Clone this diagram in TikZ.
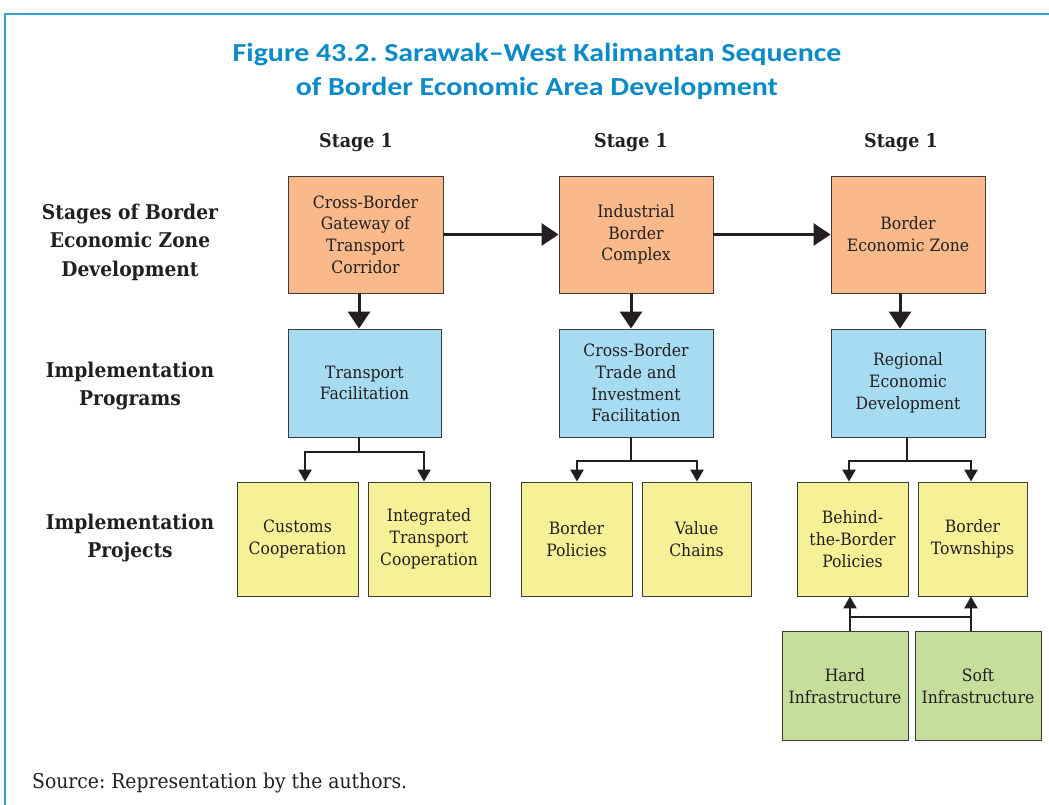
\documentclass[tikz,border=0pt]{standalone}
\usepackage{fontspec}
\setmainfont[FakeStretch=0.92]{DejaVu Serif}
\newfontfamily\titlefont[FakeStretch=1.15]{Carlito}
\usetikzlibrary{arrows.meta}
\definecolor{frameblue}{HTML}{3A9BD2}
\definecolor{titleblue}{HTML}{0A8AC9}
\definecolor{orangefill}{HTML}{F9B98A}
\definecolor{bluefill}{HTML}{A6DBF2}
\definecolor{yellowfill}{HTML}{F6F096}
\definecolor{greenfill}{HTML}{C5DE9C}
\definecolor{edgegray}{HTML}{3C3C3C}
\definecolor{inkdark}{HTML}{231F20}
\tikzset{
  box/.style={draw=edgegray, line width=0.9pt, align=center, inner sep=2pt,
    font=\fontsize{17}{21.7}\selectfont, text=inkdark},
  obox/.style={box, fill=orangefill, minimum width=155pt, minimum height=117pt},
  bbox/.style={box, fill=bluefill, minimum width=154pt, minimum height=108pt},
  ybox/.style={box, fill=yellowfill, minimum height=114pt},
  gbox/.style={box, fill=greenfill, minimum width=126pt, minimum height=109pt},
  rowlabel/.style={align=center, font=\bfseries\fontsize{20.3}{28.5}\selectfont, text=inkdark},
  stagelabel/.style={font=\bfseries\fontsize{19}{22}\selectfont, text=inkdark},
  titlestyle/.style={font=\titlefont\bfseries\fontsize{26}{34}\selectfont, text=titleblue, align=center},
  bigarrow/.style={draw=inkdark, line width=3pt, -{Triangle[length=17pt,width=22pt]}},
  smallarrow/.style={draw=inkdark, line width=2.6pt, -{Triangle[length=12pt,width=13pt]}},
  plainline/.style={draw=inkdark, line width=2.6pt},
}
\begin{document}
\frenchspacing
\begin{tikzpicture}[x=1pt,y=-1pt]
\useasboundingbox (0,0) rectangle (1049,805);
\draw[frameblue, line width=1.6pt] (5,805) -- (5,14) -- (1049,14);

\node[titlestyle] (title) at (537,71)
  {Figure 43.2. Sarawak–West Kalimantan Sequence\\of Border Economic Area Development};

\node[stagelabel] (s1) at (356,142.5) {Stage 1};
\node[stagelabel] (s2) at (631,142.5) {Stage 1};
\node[stagelabel] (s3) at (901,142.5) {Stage 1};

\node[rowlabel] (r1) at (130,242) {Stages of Border\\Economic Zone\\Development};
\node[rowlabel] (r2) at (130,386) {Implementation\\Programs};
\node[rowlabel] (r3) at (130,538) {Implementation\\Projects};

\node[obox] (o1) at (365.5,234.5) {Cross-Border\\Gateway of\\Transport\\Corridor};
\node[obox, minimum width=154pt] (o2) at (636,234.5) {Industrial\\Border\\Complex};
\node[obox, minimum width=154pt] (o3) at (908,234.5) {Border\\Economic Zone};

\node[bbox, minimum width=153pt] (b1) at (364.5,383) {Transport\\Facilitation};
\node[bbox] (b2) at (636,383) {Cross-Border\\Trade and\\Investment\\Facilitation};
\node[bbox] (b3) at (908,383) {Regional\\Economic\\Development};

\node[ybox, minimum width=121pt] (y1) at (297.5,539) {Customs\\Cooperation};
\node[ybox, minimum width=122pt] (y2) at (429,539) {Integrated\\Transport\\Cooperation};
\node[ybox, minimum width=111pt] (y3) at (576.5,539) {Border\\Policies};
\node[ybox, minimum width=109pt] (y4) at (696.5,539) {Value\\Chains};
\node[ybox, minimum width=111pt] (y5) at (852.5,539) {Behind-\\the-Border\\Policies};
\node[ybox, minimum width=109pt] (y6) at (972.5,539) {Border\\Townships};

\node[gbox] (g1) at (845,686) {Hard\\Infrastructure};
\node[gbox] (g2) at (978,686) {Soft\\Infrastructure};

\node[anchor=base west, font=\fontsize{20.4}{22}\selectfont, text=inkdark, inner sep=0pt] (src) at (32,788) {Source: Representation by the authors.};

% stage arrows
\draw[bigarrow] (o1.east) -- (o2.west);
\draw[bigarrow] (o2.east) -- (o3.west);
\draw[bigarrow] ([xshift=-6.5pt]o1.south) -- ([xshift=-5.5pt]b1.north);
\draw[bigarrow] ([xshift=-5pt]o2.south) -- ([xshift=-5pt]b2.north);
\draw[bigarrow] ([xshift=-8pt]o3.south) -- ([xshift=-8pt]b3.north);

% program to project branches
\coordinate (j1) at (359,452);
\draw[plainline] ([xshift=-5.5pt]b1.south) -- (j1);
\draw[smallarrow] (j1) -| ([xshift=7.5pt]y1.north);
\draw[smallarrow] (j1) -| ([xshift=-5pt]y2.north);

\coordinate (j2) at (631,461);
\draw[plainline] ([xshift=-5pt]b2.south) -- (j2);
\draw[smallarrow] (j2) -| ([xshift=0.5pt]y3.north);
\draw[smallarrow] (j2) -| ([xshift=0.5pt]y4.north);

\coordinate (j3) at (907,461);
\draw[plainline] ([xshift=-1pt]b3.south) -- (j3);
\draw[smallarrow] (j3) -| ([xshift=-3.5pt]y5.north);
\draw[smallarrow] (j3) -| ([xshift=-1.5pt]y6.north);

% infrastructure to projects
\coordinate (k1) at (850,617);
\coordinate (k2) at (971,617);
\draw[plainline] (k1) -- (k2);
\draw[smallarrow] ([xshift=5pt]g1.north) -- ([xshift=-2.5pt]y5.south);
\draw[smallarrow] ([xshift=-7pt]g2.north) -- ([xshift=-1.5pt]y6.south);
\end{tikzpicture}
\end{document}
